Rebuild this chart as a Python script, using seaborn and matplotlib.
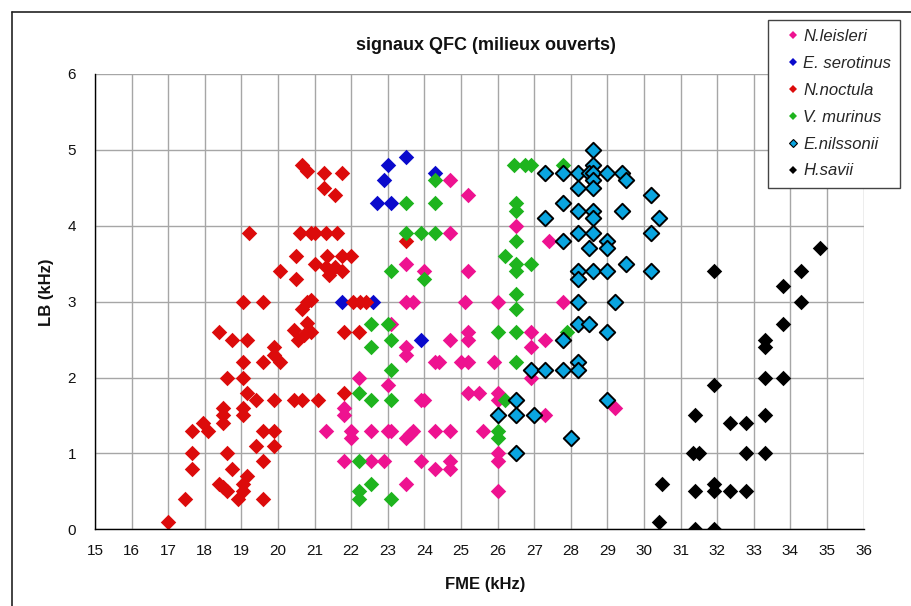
import matplotlib
matplotlib.use("Agg")
import matplotlib.pyplot as plt
import seaborn as sns
import pandas as pd
from matplotlib.lines import Line2D

# ---------------- data ----------------
leisleri_x = [24.7, 25.2, 24.7, 26.5, 23.5, 24.0, 25.2, 23.5, 23.7, 25.1, 26.0, 23.1,
              24.7, 25.2, 25.2, 23.5, 23.5, 24.3, 24.4, 25.0, 25.2, 25.9, 22.2, 23.0,
              25.2, 25.5, 26.0, 26.0, 23.9, 24.0, 21.8, 21.8, 21.3, 22.0, 22.0, 22.55,
              23.0, 23.1, 23.5, 23.6, 23.7, 24.3, 24.7, 25.6, 26.0, 26.0, 21.8, 22.55,
              22.9, 23.9, 24.3, 24.7, 24.7, 23.5, 26.0, 27.4, 27.8, 26.9, 27.3, 26.9,
              26.9, 27.3, 29.2]
leisleri_y = [4.6, 4.4, 3.9, 4.0, 3.5, 3.4, 3.4, 3.0, 3.0, 3.0, 3.0, 2.7,
              2.5, 2.6, 2.5, 2.4, 2.3, 2.2, 2.2, 2.2, 2.2, 2.2, 2.0, 1.9,
              1.8, 1.8, 1.8, 1.7, 1.7, 1.7, 1.6, 1.5, 1.3, 1.3, 1.2, 1.3,
              1.3, 1.3, 1.2, 1.25, 1.3, 1.3, 1.3, 1.3, 1.0, 0.9, 0.9, 0.9,
              0.9, 0.9, 0.8, 0.9, 0.8, 0.6, 0.5, 3.8, 3.0, 2.6, 2.5, 2.4,
              2.0, 1.5, 1.6]

serotinus_x = [23.5, 23.0, 22.9, 22.7, 23.1, 24.3, 21.75, 22.6, 23.9]
serotinus_y = [4.9, 4.8, 4.6, 4.3, 4.3, 4.7, 3.0, 3.0, 2.5]

noctula_x = [20.65, 20.8, 21.25, 21.75, 21.25, 21.55,
             19.2, 20.6, 20.9, 21.0, 21.3, 21.6,
             20.5, 21.0, 21.35, 21.75, 22.0,
             20.05, 20.5, 21.3, 21.4, 21.55, 21.75,
             19.05, 19.6, 20.8, 20.9, 20.65,
             18.4, 18.75, 19.15, 19.9, 19.9, 20.05, 19.05, 19.6,
             20.45, 20.55, 20.8, 20.9, 20.7,
             18.6, 19.05, 19.15, 19.4, 19.9, 20.45, 20.65, 21.1,
             18.5, 18.5, 18.5, 19.05, 19.05,
             17.95, 18.1, 17.65, 19.6, 19.9,
             19.4, 19.9, 17.65, 18.6, 17.65, 18.75, 19.6,
             18.4, 18.5, 18.6, 19.15, 19.05, 19.05, 18.9, 19.6, 17.45, 17.0,
             22.05, 22.25, 22.4, 21.8, 22.2, 21.8, 23.5]
noctula_y = [4.8, 4.72, 4.7, 4.7, 4.5, 4.4,
             3.9, 3.9, 3.9, 3.9, 3.9, 3.9,
             3.6, 3.5, 3.6, 3.6, 3.6,
             3.4, 3.3, 3.45, 3.35, 3.45, 3.4,
             3.0, 3.0, 3.0, 3.02, 2.9,
             2.6, 2.5, 2.5, 2.4, 2.3, 2.2, 2.2, 2.2,
             2.62, 2.5, 2.72, 2.6, 2.56,
             2.0, 2.0, 1.8, 1.7, 1.7, 1.7, 1.7, 1.7,
             1.6, 1.5, 1.4, 1.6, 1.5,
             1.4, 1.3, 1.3, 1.3, 1.3,
             1.1, 1.1, 1.0, 1.0, 0.8, 0.8, 0.9,
             0.6, 0.56, 0.5, 0.7, 0.6, 0.5, 0.4, 0.4, 0.4, 0.1,
             3.0, 3.0, 3.0, 2.6, 2.6, 1.8, 3.8]

murinus_x = [26.45, 26.75, 26.9, 27.8, 24.3, 23.5, 24.3, 26.5, 26.5, 23.5, 23.9, 24.3,
             26.5, 26.2, 26.5, 26.5, 26.9, 23.1, 24.0, 26.5, 26.5, 22.55, 23.0, 23.1,
             22.55, 26.0, 26.5, 27.9, 26.5, 23.1, 22.2, 22.55, 23.1, 26.2, 26.0, 26.0,
             22.2, 22.55, 22.2, 22.2, 23.1]
murinus_y = [4.8, 4.8, 4.8, 4.8, 4.6, 4.3, 4.3, 4.3, 4.2, 3.9, 3.9, 3.9,
             3.8, 3.6, 3.5, 3.4, 3.5, 3.4, 3.3, 3.1, 2.9, 2.7, 2.7, 2.5,
             2.4, 2.6, 2.6, 2.6, 2.2, 2.1, 1.8, 1.7, 1.7, 1.7, 1.3, 1.2,
             0.9, 0.6, 0.5, 0.4, 0.4]

nilssonii_x = [28.6, 28.6, 27.3, 27.8, 28.2, 28.5, 28.6, 29.0, 29.4, 28.6, 29.5, 28.2,
               28.6, 30.2, 27.8, 28.2, 28.6, 29.4, 28.6, 27.3, 30.4, 28.2, 28.6, 30.2,
               27.8, 29.0, 28.5, 29.0, 29.5, 28.2, 28.6, 29.0, 30.2, 28.2, 28.2, 29.2,
               28.2, 28.5, 29.0, 27.8, 28.2, 28.2, 26.9, 27.3, 27.8, 29.0, 26.5, 26.0,
               26.5, 27.0, 28.0, 26.5]
nilssonii_y = [5.0, 4.8, 4.7, 4.7, 4.7, 4.7, 4.7, 4.7, 4.7, 4.6, 4.6, 4.5,
               4.5, 4.4, 4.3, 4.2, 4.2, 4.2, 4.1, 4.1, 4.1, 3.9, 3.9, 3.9,
               3.8, 3.8, 3.7, 3.7, 3.5, 3.4, 3.4, 3.4, 3.4, 3.3, 3.0, 3.0,
               2.7, 2.7, 2.6, 2.5, 2.2, 2.1, 2.1, 2.1, 2.1, 1.7, 1.7, 1.5,
               1.5, 1.5, 1.2, 1.0]

savii_x = [34.8, 34.3, 31.9, 33.8, 34.3, 33.8, 33.3, 33.3, 33.3, 33.8, 31.9, 31.4,
           33.3, 32.35, 32.8, 31.35, 31.5, 32.8, 33.3, 30.5, 31.4, 31.9, 31.9, 32.35,
           32.8, 30.4, 31.4, 31.9]
savii_y = [3.7, 3.4, 3.4, 3.2, 3.0, 2.7, 2.5, 2.4, 2.0, 2.0, 1.9, 1.5,
           1.5, 1.4, 1.4, 1.0, 1.0, 1.0, 1.0, 0.6, 0.5, 0.6, 0.5, 0.5,
           0.5, 0.1, 0.0, 0.0]

species = ["N.leisleri", "E. serotinus", "N.noctula", "V. murinus", "E.nilssonii", "H.savii"]
colors = ["#EE1290", "#0A0ACC", "#DC0B0B", "#1EB41E", "#0AA5E0", "#000000"]
xs = [leisleri_x, serotinus_x, noctula_x, murinus_x, nilssonii_x, savii_x]
ys = [leisleri_y, serotinus_y, noctula_y, murinus_y, nilssonii_y, savii_y]

x_ticks = list(range(15, 37))
y_ticks = list(range(0, 7))

frames = []
for sp, x, y in zip(species, xs, ys):
    frames.append(pd.DataFrame({"FME": x, "LB": y, "species": sp}))
df = pd.concat(frames, ignore_index=True)

# ---------------- style ----------------
sns.set_style("white")
plt.rcParams["font.family"] = ["Liberation Sans", "DejaVu Sans"]

fig = plt.figure(figsize=(9.12, 6.06), dpi=100)
W, H = 912, 606
ax_l, ax_r, ax_t, ax_b = 95, 863.6, 73.9, 529.3
ax = fig.add_axes([ax_l / W, 1 - ax_b / H, (ax_r - ax_l) / W, (ax_b - ax_t) / H])

for sp, col in zip(species, colors):
    sub = df[df["species"] == sp]
    if sp == "E.nilssonii":
        ec, lw = "black", 1.4
    else:
        ec, lw = col, 0
    sns.scatterplot(data=sub, x="FME", y="LB", color=col, marker="D", s=62,
                    edgecolor=ec, linewidth=lw, ax=ax, legend=False, zorder=3)

ax.set_xlim(15, 36)
ax.set_ylim(0, 6)
ax.set_xticks(x_ticks)
ax.set_yticks(y_ticks)
ax.grid(True, color="#A6A6A6", linewidth=1.0)
ax.set_axisbelow(True)
for s in ["top", "right"]:
    ax.spines[s].set_visible(False)
for s in ["left", "bottom"]:
    ax.spines[s].set_color("black")
    ax.spines[s].set_linewidth(1.0)
    ax.spines[s].set_zorder(4)
ax.tick_params(axis="both", direction="out", length=4.5, width=0.8, color="#555555",
               labelsize=11, labelcolor="#111111")
ax.tick_params(axis="x", pad=6)
ax.tick_params(axis="y", pad=9)

ax.set_xlabel("")
ax.set_ylabel("")
ax.text(0.508, -0.122, "FME (kHz)", transform=ax.transAxes, ha="center", va="center",
        fontsize=12, fontweight="bold", color="#111111")
ax.text(-0.0625, 0.521, "LB (kHz)", transform=ax.transAxes, ha="center", va="center",
        fontsize=12, fontweight="bold", rotation=90, color="#111111")
ax.text(0.509, 1.0634, "signaux QFC (milieux ouverts)", transform=ax.transAxes,
        ha="center", va="center", fontsize=13, fontweight="bold", color="#111111")

# legend
handles = []
for sp, col in zip(species, colors):
    mec = "black" if sp == "E.nilssonii" else col
    handles.append(Line2D([], [], linestyle="none", marker="D", markersize=4.4,
                          markerfacecolor=col, markeredgecolor=mec,
                          markeredgewidth=0.8 if sp == "E.nilssonii" else 0))
leg = fig.legend(handles, species, loc="upper left",
                 bbox_to_anchor=(768 / W, 1 - 20 / H), frameon=True, fancybox=False,
                 edgecolor="#444444", framealpha=1,
                 prop={"style": "italic", "size": 12, "family": ["Liberation Sans"]},
                 handlelength=1.9, handletextpad=-0.35, labelspacing=0.71,
                 borderpad=0.55, borderaxespad=0)
leg.get_frame().set_linewidth(1.0)

# outer chart border
fig.add_artist(Line2D([12 / W, 12 / W], [0, 1 - 12 / H], color="#222222", linewidth=1.2,
                      transform=fig.transFigure))
fig.add_artist(Line2D([12 / W, 1], [1 - 12 / H, 1 - 12 / H], color="#222222", linewidth=1.2,
                      transform=fig.transFigure))

fig.savefig("out.png", dpi=100)
